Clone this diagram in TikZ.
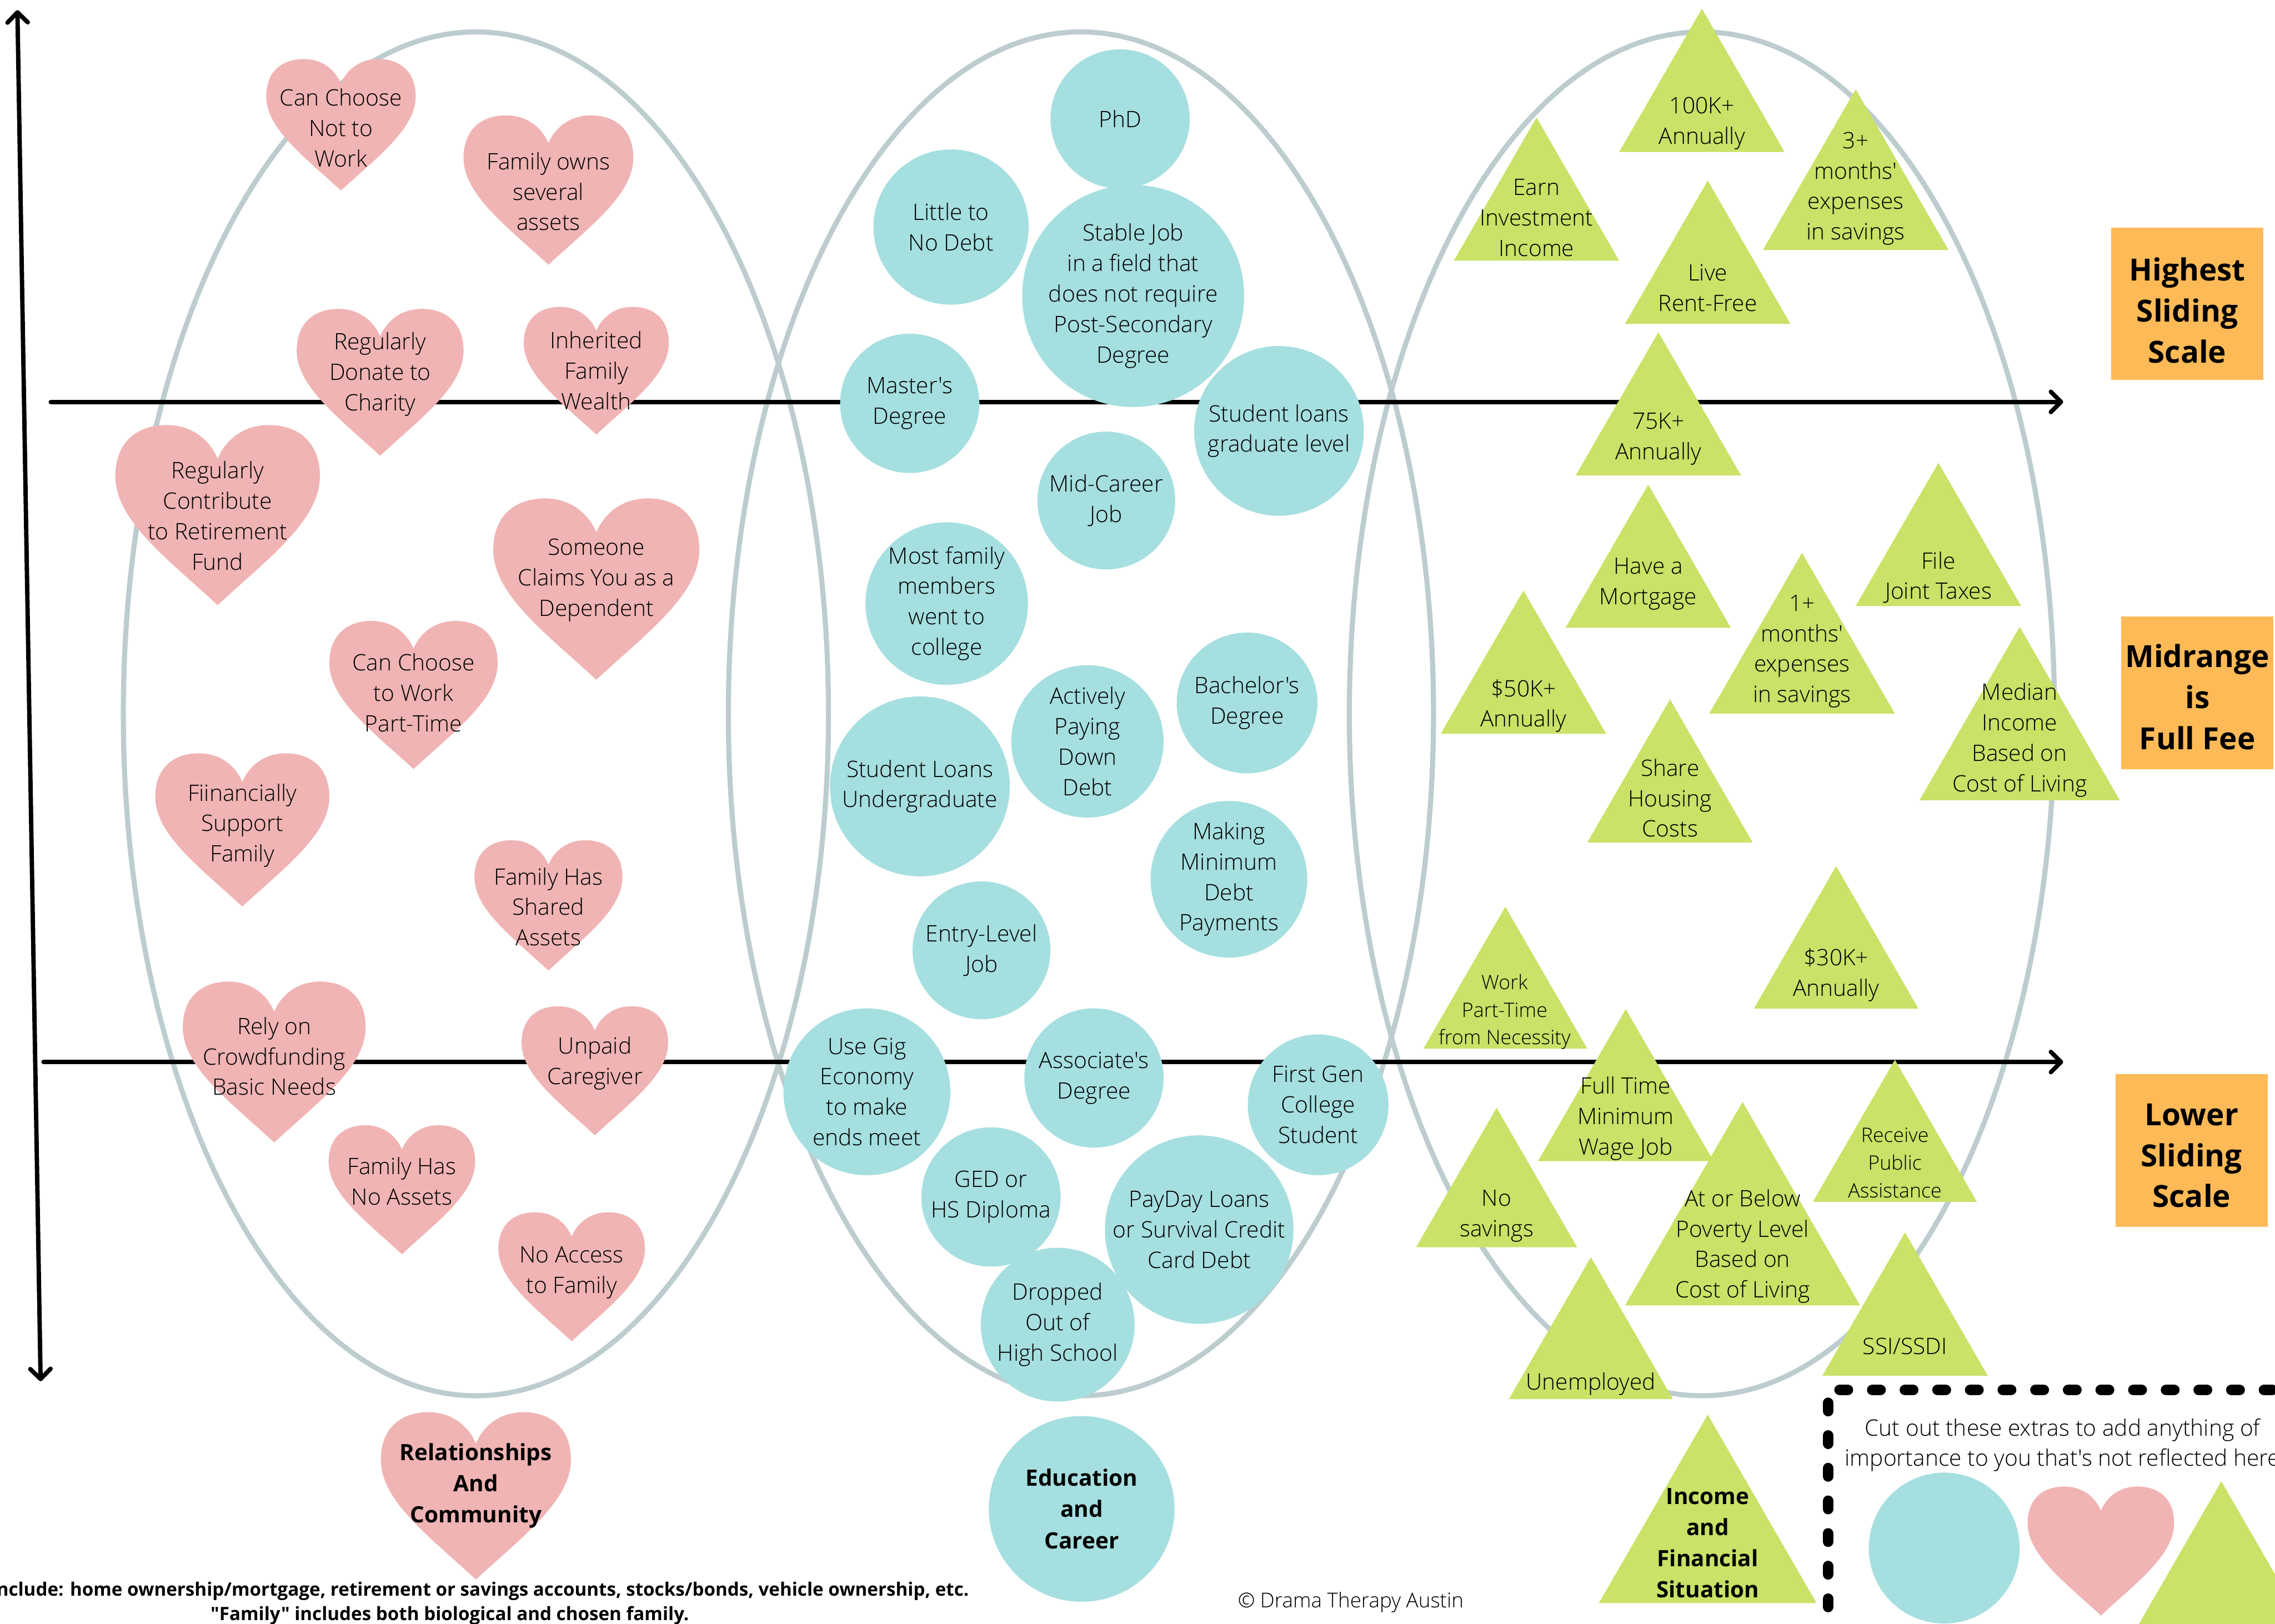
\documentclass[tikz,border=0pt]{standalone}
\usepackage{fontspec}
\IfFontExistsTF{Open Sans Light}{\setmainfont{Open Sans Light}[BoldFont={Open Sans Bold},Ligatures=TeXOff]}{\setmainfont{Open Sans}[Ligatures=TeXOff]}
\usetikzlibrary{arrows.meta,shapes.geometric}
\definecolor{heartpink}{HTML}{F0B4B4}
\definecolor{bubteal}{HTML}{A6DFE0}
\definecolor{trigreen}{HTML}{C9E267}
\definecolor{scaleorange}{HTML}{FDBA57}
\definecolor{ringgrey}{HTML}{BCCCCF}

\begin{document}
\begin{tikzpicture}[x=1pt,y=-1pt,
    >={Straight Barb[length=7pt,width=14pt,round]},
    lbl/.style={align=center,inner sep=0pt,font=\fontsize{15.6}{21}\selectfont},
    lblsmall/.style={lbl,font=\fontsize{13.7}{19}\selectfont},
    cat/.style={align=center,inner sep=0pt,font=\fontsize{15.5}{21.5}\selectfont\bfseries},
    foot/.style={inner sep=0pt,font=\fontsize{12.7}{17}\selectfont\bfseries},
    bub/.style={circle,fill=bubteal,inner sep=0pt,minimum size=#1,lbl},
    tri/.style={regular polygon,regular polygon sides=3,fill=trigreen,inner sep=0pt,minimum size=1.1547*#1},
    scalebox/.style={fill=scaleorange,minimum size=105,inner sep=0pt},
    scaletext/.style={align=center,inner sep=0pt,font=\fontsize{21}{28.3}\selectfont\bfseries},
    ring/.style={draw=ringgrey,line width=3.5},
    axis/.style={line width=3,line cap=round},
    heart/.pic={\fill[heartpink] (0,0.88) .. controls (-0.5,0.42) and (-1,0.05) .. (-1,-0.38)
      .. controls (-1,-0.72) and (-0.78,-0.88) .. (-0.5,-0.88)
      .. controls (-0.22,-0.88) and (-0.06,-0.7) .. (0,-0.55)
      .. controls (0.06,-0.7) and (0.22,-0.88) .. (0.5,-0.88)
      .. controls (0.78,-0.88) and (1,-0.72) .. (1,-0.38)
      .. controls (1,0.05) and (0.5,0.42) .. (0,0.88) -- cycle;}]
  \useasboundingbox (0,0) rectangle (1568,1119);

  \foreach \cx in {328,745,1173}
    \draw[ring] (\cx,492) ellipse [x radius=243,y radius=470];

  \coordinate (ybot) at (28,952);
  \coordinate (ytop) at (12,7);
  \coordinate (hiL) at (35,277);
  \coordinate (hiR) at (1422,277);
  \coordinate (loL) at (30,732);
  \coordinate (loR) at (1422,732);
  \draw[axis,<->] (ybot) -- (ytop);
  \draw[axis,->] (hiL) -- (hiR);
  \draw[axis,->] (loL) -- (loR);

  \pic[scale=51.5] at (235,86) {heart};
  \node[lbl] (notwork) at (235,88) {Can Choose\\Not to\\Work};
  \pic[scale=58.5] at (378,131) {heart};
  \node[lbl] (owns) at (378,132) {Family owns\\several\\assets};
  \pic[scale=57.5] at (262,263.5) {heart};
  \node[lbl] (donate) at (262,258) {Regularly\\Donate to\\Charity};
  \pic[scale=50] at (411,255.5) {heart};
  \node[lbl] (inherit) at (411,255.5) {Inherited\\Family\\Wealth};
  \pic[scale=70.5] at (150,355) {heart};
  \node[lbl] (retire) at (150,355.5) {Regularly\\Contribute\\to Retirement\\Fund};
  \pic[scale=71] at (411,406) {heart};
  \node[lbl] (dependent) at (411,400) {Someone\\Claims You as a\\Dependent};
  \pic[scale=58] at (285,479) {heart};
  \node[lbl] (parttime) at (285,477.5) {Can Choose\\to Work\\Part-Time};
  \pic[scale=60] at (167,572) {heart};
  \node[lbl] (support) at (167,569) {Fiinancially\\Support\\Family};
  \pic[scale=51] at (378,624) {heart};
  \node[lbl] (shared) at (378,625) {Family Has\\Shared\\Assets};
  \pic[scale=63] at (189,732) {heart};
  \node[lbl] (crowd) at (189,728) {Rely on\\Crowdfunding\\Basic Needs};
  \pic[scale=50.5] at (410,738) {heart};
  \node[lbl] (caregiver) at (410,733) {Unpaid\\Caregiver};
  \pic[scale=50.5] at (277,820) {heart};
  \node[lbl] (noassets) at (277,814) {Family Has\\No Assets};
  \pic[scale=50.5] at (394,880) {heart};
  \node[lbl] (noaccess) at (394,877) {No Access\\to Family};
  \pic[scale=65.5] at (328,1031) {heart};
  \node[cat] (relations) at (328,1024) {Relationships\\And\\Community};

  \node[bub=96] (phd) at (772,82) {PhD};
  \node[bub=107] (nodebt) at (655.5,156.5) {Little to\\No Debt};
  \node[bub=132] (stable) at (781,204) {Stable Job\\in a field that\\does not require\\Post-Secondary\\Degree};
  \node[bub=96] (masters) at (627,278) {Master's\\Degree};
  \node[bub=117] (gradloans) at (881.5,297) {Student loans\\graduate level};
  \node[bub=95] (midcareer) at (762.5,345) {Mid-Career\\Job};
  \node[bub=111] (famcollege) at (652.5,416) {Most family\\members\\went to\\college};
  \node[bub=105] (paying) at (749.5,511) {Actively\\Paying\\Down\\Debt};
  \node[bub=97] (bachelors) at (859.5,484.5) {Bachelor's\\Degree};
  \node[bub=124] (ugloans) at (634,542) {Student Loans\\Undergraduate};
  \node[bub=108] (minpay) at (847,606) {Making\\Minimum\\Debt\\Payments};
  \node[bub=95] (entry) at (676.5,655) {Entry-Level\\Job};
  \node[bub=115] (gig) at (597.5,752.5) {Use Gig\\Economy\\to make\\ends meet};
  \node[bub=96] (associates) at (754,743) {Associate's\\Degree};
  \node[bub=97] (firstgen) at (908.5,761.5) {First Gen\\College\\Student};
  \node[bub=96] (ged) at (683,825) {GED or\\HS Diploma};
  \node[bub=127] (payday) at (826.5,847.5) {PayDay Loans\\or Survival Credit\\Card Debt};
  \node[bub=106] (dropped) at (729,913) {Dropped\\Out of\\High School};
  \node[bub=128,cat] (educ) at (745.5,1040) {Education\\and\\Career};

  \node[tri=114] (k100) at (1173,71.8) {};
  \node[lbl] (k100l) at (1173,85) {100K+\\Annually};
  \node[tri=114] (earn) at (1059,146.8) {};
  \node[lbl] (earnl) at (1059,150) {Earn\\Investment\\Income};
  \node[tri=128] (save3) at (1279,135.4) {};
  \node[lbl] (save3l) at (1279,130) {3+\\months'\\expenses\\in savings};
  \node[tri=114] (rentfree) at (1177,190.3) {};
  \node[lbl] (rentfreel) at (1177,198.5) {Live\\Rent-Free};
  \node[tri=114] (k75) at (1143,294.8) {};
  \node[lbl] (k75l) at (1143,302.5) {75K+\\Annually};
  \node[tri=114] (mortgage) at (1136,399.8) {};
  \node[lbl] (mortgagel) at (1136,402.5) {Have a\\Mortgage};
  \node[tri=114] (joint) at (1336,384.8) {};
  \node[lbl] (jointl) at (1336,398) {File\\Joint Taxes};
  \node[tri=114] (k50) at (1050,472.8) {};
  \node[lbl] (k50l) at (1050,486.5) {\$50K+\\Annually};
  \node[tri=128] (save1) at (1242,454.9) {};
  \node[lbl] (save1l) at (1242,449) {1+\\months'\\expenses\\in savings};
  \node[tri=138] (median) at (1392,511.7) {};
  \node[lbl] (medianl) at (1392,510) {Median\\Income\\Based on\\Cost of Living};
  \node[tri=114] (housing) at (1151,547.8) {};
  \node[lbl] (housingl) at (1151,550) {Share\\Housing\\Costs};
  \node[tri=113] (necessity) at (1037.5,690.2) {};
  \node[lblsmall] (necessityl) at (1037,697.5) {Work\\Part-Time\\from Necessity};
  \node[tri=113.5] (k30) at (1265.5,662.5) {};
  \node[lbl] (k30l) at (1265.5,672) {\$30K+\\Annually};
  \node[tri=121] (minwage) at (1120.5,765.4) {};
  \node[lbl] (minwagel) at (1120.5,771) {Full Time\\Minimum\\Wage Job};
  \node[tri=113] (public) at (1306,795.7) {};
  \node[lblsmall] (publicl) at (1306,801.5) {Receive\\Public\\Assistance};
  \node[tri=111] (nosave) at (1031.5,827.6) {};
  \node[lbl] (nosavel) at (1031.5,838) {No\\savings};
  \node[tri=162] (poverty) at (1201,853) {};
  \node[lbl] (povertyl) at (1201,859) {At or Below\\Poverty Level\\Based on\\Cost of Living};
  \node[tri=113] (unemp) at (1096.5,931.7) {};
  \node[lbl] (unempl) at (1096.5,954) {Unemployed};
  \node[tri=114] (ssi) at (1313,915.3) {};
  \node[lbl] (ssil) at (1313,928) {SSI/SSDI};
  \node[tri=150] (income) at (1177,1061.6) {};
  \node[cat] (incomel) at (1177,1063.5) {Income\\and\\Financial\\Situation};

  \node[scalebox] (highest) at (1507.5,209.5) {};
  \node[scaletext] (highestl) at (1507.5,214) {Highest\\Sliding\\Scale};
  \node[scalebox] (midrange) at (1514.5,477.5) {};
  \node[scaletext] (midrangel) at (1514.5,480.5) {Midrange\\is\\Full Fee};
  \node[scalebox] (lower) at (1510.5,793) {};
  \node[scaletext] (lowerl) at (1510.5,796.5) {Lower\\Sliding\\Scale};

  \coordinate (cutcorner) at (1260,958);
  \coordinate (cutdown) at (1260,1130);
  \coordinate (cutright) at (1580,958);
  \draw[line width=7.5,line cap=round,dash pattern=on 5.5 off 17] (cutdown) -- (cutcorner) -- (cutright);
  \node[lbl] (cutnote) at (1421.5,996) {Cut out these extras to add anything of\\importance to you that's not reflected here};
  \node[bub=104] (extrabub) at (1340,1067) {};
  \pic[scale=50.5] at (1448,1069) {heart};
  \node[tri=114] (extratri) at (1531,1086.8) {};

  \node[foot,anchor=base east] (assets) at (668,1100) {nclude: home ownership/mortgage, retirement or savings accounts, stocks/bonds, vehicle ownership, etc.};
  \node[foot,anchor=base] (chosen) at (310,1117) {"Family" includes both biological and chosen family.};
  \node[inner sep=0pt,anchor=base west,font=\fontsize{14.1}{17}\selectfont] (credit) at (853,1108) {\textcopyright{} Drama Therapy Austin};
\end{tikzpicture}
\end{document}
